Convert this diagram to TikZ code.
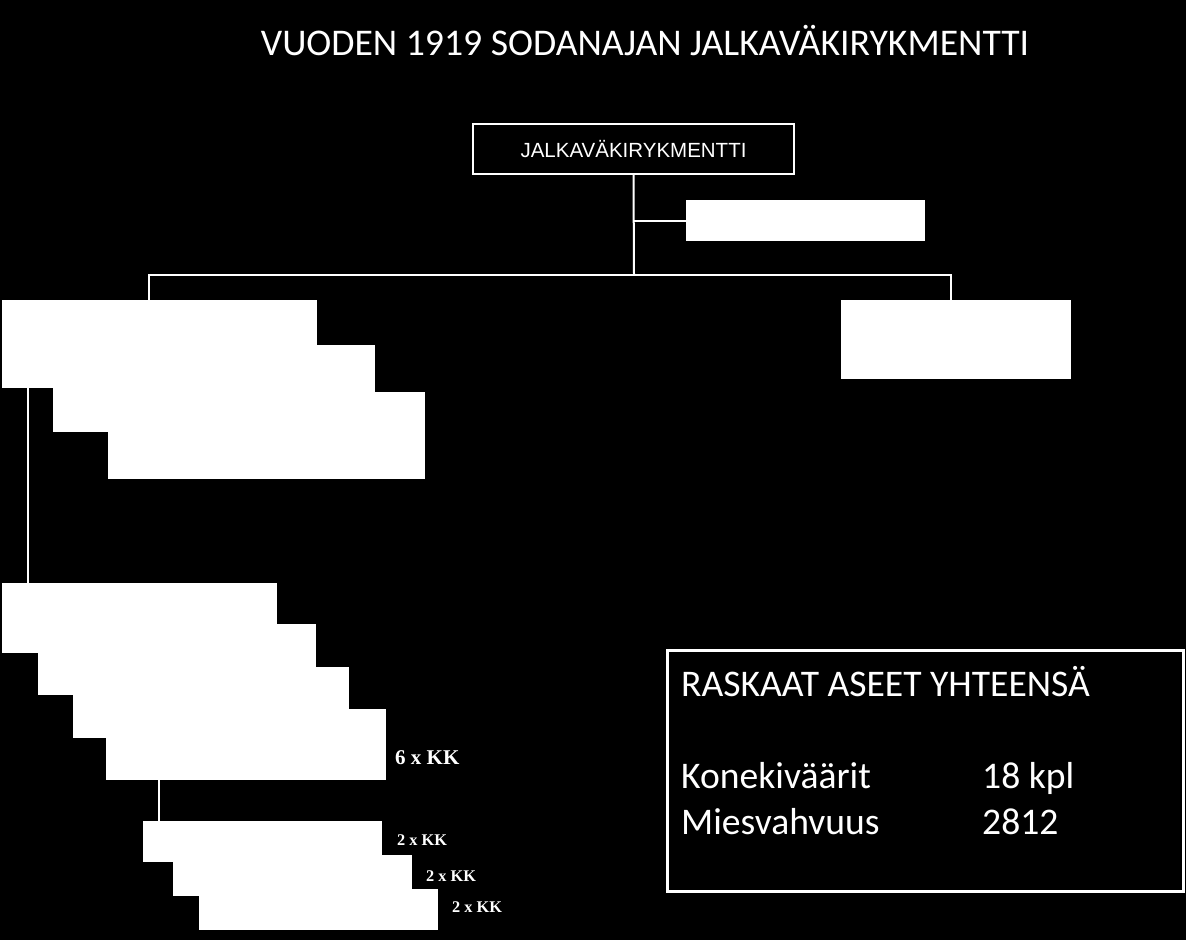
\documentclass[tikz,border=0pt]{standalone}
\usepackage{fontspec}
\setmainfont{Carlito}
\newfontfamily\arialfont{Liberation Sans}
\newfontfamily\timesfont{Liberation Serif}
\usetikzlibrary{positioning}

\tikzset{
  unitbox/.style={rectangle, fill=white, inner sep=0pt, outer sep=0pt, anchor=north west},
  hqbox/.style={rectangle, draw=white, line width=2pt, fill=black, text=white, inner sep=0pt, outer sep=0pt,
    minimum width=321pt, minimum height=50pt, font=\arialfont\fontsize{20.5}{24}\selectfont},
  conn/.style={draw=white, line width=2pt},
  kklabel/.style={text=white, inner sep=0pt, anchor=base west, font=\timesfont\bfseries},
  infotext/.style={text=white, inner sep=0pt, anchor=base west, font=\fontsize{37.6}{44}\selectfont},
}

\begin{document}
\begin{tikzpicture}[x=1pt, y=-1pt]
    \useasboundingbox (0,0) rectangle (1186,940);
    \fill[black] (0,0) rectangle (1186,940);

    \node[text=white, inner sep=0pt, anchor=base, font=\fontsize{37.7}{44}\selectfont] (title) at (645,55) {VUODEN 1919 SODANAJAN JALKAVÄKIRYKMENTTI};

    \node[hqbox] (regt) at (633.5,149) {JALKAVÄKIRYKMENTTI};
    \node[unitbox, minimum width=239pt, minimum height=41pt] (staff) at (686,200) {};
    \coordinate (bus) at (634,275);
    \coordinate (busL) at (149,275);
    \coordinate (busR) at (951,275);

    % battalions
    \node[unitbox, minimum width=315pt, minimum height=88pt] (bat1) at (2,300) {};
    \node[unitbox, minimum width=322pt, minimum height=87pt] (bat2) at (53,345) {};
    \node[unitbox, minimum width=317pt, minimum height=87pt] (bat3) at (108,392) {};
    \node[unitbox, minimum width=230pt, minimum height=79pt] (mgco) at (841,300) {};

    % companies
    \node[unitbox, minimum width=275pt, minimum height=70pt] (coyA) at (2,583) {};
    \node[unitbox, minimum width=278pt, minimum height=71pt] (coyB) at (38,624) {};
    \node[unitbox, minimum width=276pt, minimum height=71pt] (coyC) at (73,667) {};
    \node[unitbox, minimum width=280pt, minimum height=71pt] (coyD) at (106,709) {};
    \node[kklabel, font=\timesfont\bfseries\fontsize{21}{24}\selectfont] (kkD) at (395,764) {6 x KK};

    % platoons
    \node[unitbox, minimum width=239pt, minimum height=41pt] (mgA) at (143,821) {};
    \node[unitbox, minimum width=239pt, minimum height=41pt] (mgB) at (173,855) {};
    \node[unitbox, minimum width=239pt, minimum height=41pt] (mgC) at (199,889) {};
    \node[kklabel, font=\timesfont\bfseries\fontsize{16.3}{19}\selectfont] (kkA) at (397,845) {2 x KK};
    \node[kklabel, font=\timesfont\bfseries\fontsize{16.3}{19}\selectfont] (kkB) at (426,881) {2 x KK};
    \node[kklabel, font=\timesfont\bfseries\fontsize{16.3}{19}\selectfont] (kkC) at (452,912) {2 x KK};

    \coordinate (drop1) at ([xshift=26pt]bat1.south west);
    \coordinate (drop2) at ([xshift=53pt]coyD.south west);

    \draw[conn] (regt.south) -- (bus);
    \draw[conn] (regt.south |- staff.west) -- (staff.west);
    \draw[conn] (busL |- bat1.north) -- (busL) -- (busR) -- (busR |- mgco.north);
    \draw[conn] (drop1) -- (drop1 |- coyA.north);
    \draw[conn] (drop2) -- (drop2 |- mgA.north);

    % totals
    \node[rectangle, draw=white, line width=3pt, inner sep=0pt, anchor=north west,
          minimum width=516pt, minimum height=241pt] (info) at (665.5,648.5) {};
    \node[infotext] (infohead) at (681,696) {RASKAAT ASEET YHTEENSÄ};
    \node[infotext] (mglabel) at (681,788) {Konekiväärit};
    \node[infotext] (mgval) at (982,788) {18 kpl};
    \node[infotext] (menlabel) at (681,834) {Miesvahvuus};
    \node[infotext] (menval) at (982,834) {2812};
\end{tikzpicture}
\end{document}
